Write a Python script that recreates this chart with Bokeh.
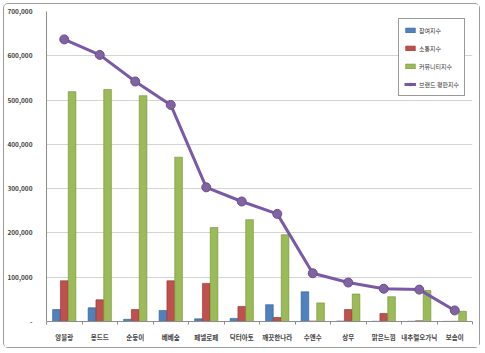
from bokeh.plotting import figure
from bokeh.models import (ColumnDataSource, Range1d, FixedTicker, NumeralTickFormatter,
                          Legend, LegendItem)
from bokeh.transform import dodge
from bokeh.embed import file_html
from bokeh.resources import INLINE

categories = ["앙블랑", "몽드드", "순둥이", "베베숲", "페넬로페", "닥터아토", "깨끗한나라",
              "수앤수", "상무", "맑은느낌", "내추럴오가닉", "보솜이"]
participation = [27000, 31000, 5000, 25000, 6000, 7000, 38000, 67000, 1000, 500, 500, 300]
communication = [92000, 49000, 27000, 92000, 86000, 34000, 9000, 1000, 27000, 18000, 1500, 500]
community = [519000, 524000, 510000, 371000, 212000, 230000, 196000, 42000, 62000, 56000, 70000, 23000]
reputation = [637000, 602000, 542000, 489000, 303000, 271000, 243000, 109000, 88000, 74000, 72000, 25000]
series_names = ["참여지수", "소통지수", "커뮤니티지수", "브랜드 평판지수"]
y_ticks = [0, 100000, 200000, 300000, 400000, 500000, 600000, 700000]

FONT = "Noto Sans CJK KR"
n = len(categories)
centers = [i + 0.5 for i in range(n)]

p = figure(width=477, height=345, output_backend="svg", toolbar_location=None,
           x_range=Range1d(0, n), y_range=Range1d(0, 700000),
           min_border_left=32, min_border_right=9, min_border_top=7, min_border_bottom=28)
p.styles = {"margin": "3px", "border": "1px solid #9a9a9a", "border-radius": "5px"}
p.outline_line_color = None
p.background_fill_color = "white"
p.border_fill_color = "white"

src = ColumnDataSource(dict(x=centers, a=participation, b=communication,
                            c=community, r=reputation))

w = 0.215
r1 = p.vbar(x=dodge("x", -0.22, range=p.x_range), top="a", width=w, source=src,
            fill_color="#4F81BD", line_color="#2E5C94", line_width=0.6)
r2 = p.vbar(x="x", top="b", width=w, source=src,
            fill_color="#C0504D", line_color="#8E2F2C", line_width=0.6)
r3 = p.vbar(x=dodge("x", 0.22, range=p.x_range), top="c", width=w, source=src,
            fill_color="#9BBB59", line_color="#6F8E34", line_width=0.6)

r4 = p.line(x="x", y="r", source=src, line_color="#7A5AA6", line_width=3)
r5 = p.scatter(x="x", y="r", source=src, size=9, fill_color="#8064A2", line_color="#6A4E8C",
               line_width=1)

p.xgrid.visible = False
p.ygrid.grid_line_color = "#d4d4d4"
p.ygrid.grid_line_width = 1
p.ygrid.ticker = FixedTicker(ticks=y_ticks)

ya = p.yaxis[0]
ya.ticker = FixedTicker(ticks=y_ticks)
ya.formatter = NumeralTickFormatter(format="0,0")
ya.major_label_overrides = {0: "-"}
ya.axis_line_color = "#8c8c8c"
ya.major_tick_line_color = None
ya.minor_tick_line_color = None
ya.major_label_standoff = 8
ya.major_label_text_font = FONT
ya.major_label_text_font_size = "6.5px"
ya.major_label_text_color = "#444444"
ya.major_label_text_font_style = "bold"

xa = p.xaxis[0]
xa.ticker = FixedTicker(ticks=centers, minor_ticks=list(range(n + 1)))
xa.major_label_overrides = {c: lab for c, lab in zip(centers, categories)}
xa.axis_line_color = "#8c8c8c"
xa.major_tick_line_color = None
xa.minor_tick_line_color = "#8c8c8c"
xa.minor_tick_out = 3
xa.minor_tick_in = 0
xa.major_label_standoff = 4
xa.major_label_text_font = FONT
xa.major_label_text_font_size = "6.5px"
xa.major_label_text_color = "#444444"
xa.major_label_text_font_style = "bold"

legend = Legend(items=[
    LegendItem(label=series_names[0], renderers=[r1]),
    LegendItem(label=series_names[1], renderers=[r2]),
    LegendItem(label=series_names[2], renderers=[r3]),
    LegendItem(label=series_names[3], renderers=[r4, r5]),
], location=(352, 225))
legend.border_line_color = "#333333"
legend.border_line_width = 1
legend.background_fill_color = "white"
legend.background_fill_alpha = 1
legend.padding = 5
legend.spacing = 6
legend.margin = 0
legend.label_height = 12
legend.glyph_height = 6
legend.glyph_width = 12
legend.label_standoff = 3
legend.label_text_font = FONT
legend.label_text_font_size = "6px"
legend.label_text_color = "#333333"
p.add_layout(legend, "center")

open("out.html", "w").write(file_html(p, INLINE))
